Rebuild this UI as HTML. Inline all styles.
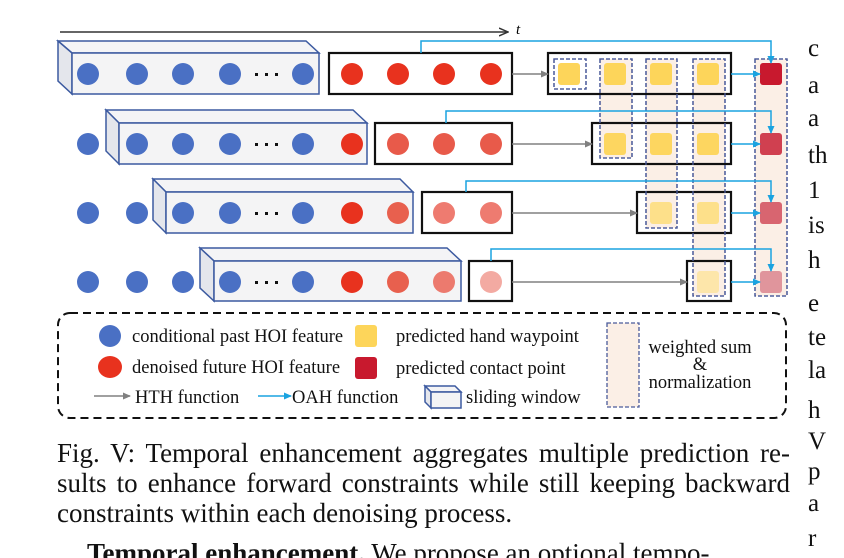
<!DOCTYPE html>
<html><head><meta charset="utf-8"><style>
html,body{margin:0;padding:0;background:#fff;width:844px;height:558px;overflow:hidden;position:relative;font-family:"Liberation Serif",serif;}
.cap{position:absolute;left:57px;width:733px;font-size:27px;line-height:30px;color:#111;white-space:nowrap;}
.j{text-align:justify;text-align-last:justify;white-space:normal;}
.rc{position:absolute;left:808px;font-size:25px;color:#111;line-height:25px;}
</style></head><body>
<svg width="844" height="558" style="position:absolute;left:0;top:0" xmlns="http://www.w3.org/2000/svg">
<defs>
<marker id="ag" markerWidth="8" markerHeight="8" refX="7" refY="4" orient="auto" markerUnits="userSpaceOnUse"><path d="M0,0.5 L8,4 L0,7.5 z" fill="#808080"/></marker>
<marker id="ab" markerWidth="8" markerHeight="8" refX="7" refY="4" orient="auto" markerUnits="userSpaceOnUse"><path d="M0,0.5 L8,4 L0,7.5 z" fill="#1aa3e0"/></marker>
<marker id="ak" markerWidth="10" markerHeight="10" refX="9" refY="5" orient="auto" markerUnits="userSpaceOnUse"><path d="M0,1 L9,5 L0,9" fill="none" stroke="#333" stroke-width="1.5"/></marker>
</defs>
<line x1="60" y1="32" x2="508" y2="32" stroke="#333" stroke-width="1.5" marker-end="url(#ak)"/>
<text x="516" y="34" font-size="15" font-style="italic" font-family="Liberation Serif">t</text>

<g fill="#fbefe6" stroke="#4a5a9a" stroke-width="1.3" stroke-dasharray="4,2">
<rect x="554" y="59" width="32" height="30" fill="#fff"/>
<rect x="600" y="59" width="32" height="99"/>
<rect x="646" y="59" width="31" height="169"/>
<rect x="693" y="59" width="32" height="237"/>
<rect x="755" y="59" width="32" height="237"/>
</g>

<g fill="none" stroke="#111" stroke-width="2.2">
<rect x="329" y="53" width="183" height="41"/>
<rect x="375" y="123" width="137" height="41"/>
<rect x="422" y="192" width="90" height="41"/>
<rect x="469" y="261" width="43" height="40"/>
<rect x="548" y="53" width="183" height="41"/>
<rect x="592" y="123" width="139" height="41"/>
<rect x="637" y="192" width="94" height="41"/>
<rect x="687" y="261" width="44" height="40"/>
</g>
<g fill="none" stroke="#4a5a9a" stroke-width="1.3" stroke-dasharray="4,2">
<rect x="554" y="59" width="32" height="30"/>
<rect x="600" y="59" width="32" height="99"/>
<rect x="646" y="59" width="31" height="169"/>
<rect x="693" y="59" width="32" height="237"/>
<rect x="755" y="59" width="32" height="237"/>
</g>

<g stroke="#3c5aa0" stroke-width="1.5">
<g>
<path d="M58,41 L306,41 L319,53 L72,53 Z" fill="#f4f4f6"/>
<path d="M58,41 L72,53 L72,94 L58,81 Z" fill="#e4e6ec"/>
<rect x="72" y="53" width="247" height="41" fill="#f4f4f5"/>
</g>
<g>
<path d="M106,110 L353,110 L367,123 L119,123 Z" fill="#f4f4f6"/>
<path d="M106,110 L119,123 L119,164 L106,151 Z" fill="#e4e6ec"/>
<rect x="119" y="123" width="248" height="41" fill="#f4f4f5"/>
</g>
<g>
<path d="M153,179 L400,179 L413,192 L166,192 Z" fill="#f4f4f6"/>
<path d="M153,179 L166,192 L166,233 L153,220 Z" fill="#e4e6ec"/>
<rect x="166" y="192" width="247" height="41" fill="#f4f4f5"/>
</g>
<g>
<path d="M200,248 L447,248 L461,261 L214,261 Z" fill="#f4f4f6"/>
<path d="M200,248 L214,261 L214,301 L200,288 Z" fill="#e4e6ec"/>
<rect x="214" y="261" width="247" height="40" fill="#f4f4f5"/>
</g>
</g>

<g fill="#4a70c4">
<circle cx="88" cy="74" r="11"/><circle cx="137" cy="74" r="11"/><circle cx="183" cy="74" r="11"/><circle cx="230" cy="74" r="11"/><circle cx="303" cy="74" r="11"/>
<circle cx="88" cy="144" r="11"/><circle cx="137" cy="144" r="11"/><circle cx="183" cy="144" r="11"/><circle cx="230" cy="144" r="11"/><circle cx="303" cy="144" r="11"/>
<circle cx="88" cy="213" r="11"/><circle cx="137" cy="213" r="11"/><circle cx="183" cy="213" r="11"/><circle cx="230" cy="213" r="11"/><circle cx="303" cy="213" r="11"/>
<circle cx="88" cy="282" r="11"/><circle cx="137" cy="282" r="11"/><circle cx="183" cy="282" r="11"/><circle cx="230" cy="282" r="11"/><circle cx="303" cy="282" r="11"/>
</g>
<g fill="#111">
<rect x="255" y="73" width="3" height="3"/><rect x="265" y="73" width="3" height="3"/><rect x="275" y="73" width="3" height="3"/>
<rect x="255" y="143" width="3" height="3"/><rect x="265" y="143" width="3" height="3"/><rect x="275" y="143" width="3" height="3"/>
<rect x="255" y="212" width="3" height="3"/><rect x="265" y="212" width="3" height="3"/><rect x="275" y="212" width="3" height="3"/>
<rect x="255" y="281" width="3" height="3"/><rect x="265" y="281" width="3" height="3"/><rect x="275" y="281" width="3" height="3"/>
</g>
<g>
<circle cx="352" cy="74" r="11" fill="#e8321e"/><circle cx="398" cy="74" r="11" fill="#e8321e"/><circle cx="444" cy="74" r="11" fill="#e8321e"/><circle cx="491" cy="74" r="11" fill="#e8321e"/>
<circle cx="352" cy="144" r="11" fill="#e8321e"/><circle cx="398" cy="144" r="11" fill="#e85a4a"/><circle cx="444" cy="144" r="11" fill="#e85a4a"/><circle cx="491" cy="144" r="11" fill="#e85a4a"/>
<circle cx="352" cy="213" r="11" fill="#e8321e"/><circle cx="398" cy="213" r="11" fill="#e8604e"/><circle cx="444" cy="213" r="11" fill="#ee7b70"/><circle cx="491" cy="213" r="11" fill="#ee7b70"/>
<circle cx="352" cy="282" r="11" fill="#e8321e"/><circle cx="398" cy="282" r="11" fill="#e8604e"/><circle cx="444" cy="282" r="11" fill="#ec7a6e"/><circle cx="491" cy="282" r="11" fill="#f3aaa2"/>
</g>

<g>
<rect x="558" y="63" width="22" height="22" rx="3" fill="#fdd55a"/><rect x="604" y="63" width="22" height="22" rx="3" fill="#fdd55a"/><rect x="650" y="63" width="22" height="22" rx="3" fill="#fdd55a"/><rect x="697" y="63" width="22" height="22" rx="3" fill="#fdd55a"/>
<rect x="604" y="133" width="22" height="22" rx="3" fill="#fdd660"/><rect x="650" y="133" width="22" height="22" rx="3" fill="#fdd660"/><rect x="697" y="133" width="22" height="22" rx="3" fill="#fdd660"/>
<rect x="650" y="202" width="22" height="22" rx="3" fill="#fde08a"/><rect x="697" y="202" width="22" height="22" rx="3" fill="#fde08a"/>
<rect x="697" y="271" width="22" height="22" rx="3" fill="#fde6aa"/>
</g>
<rect x="760" y="63" width="22" height="22" rx="3" fill="#c8192e"/>
<rect x="760" y="133" width="22" height="22" rx="3" fill="#d04050"/>
<rect x="760" y="202" width="22" height="22" rx="3" fill="#d86570"/>
<rect x="760" y="271" width="22" height="22" rx="3" fill="#e0959c"/>

<g stroke="#808080" stroke-width="1.5" marker-end="url(#ag)">
<line x1="512" y1="74" x2="548" y2="74"/>
<line x1="512" y1="144" x2="592" y2="144"/>
<line x1="512" y1="213" x2="637" y2="213"/>
<line x1="512" y1="282" x2="687" y2="282"/>
</g>
<g stroke="#1aa3e0" stroke-width="1.5" fill="none" marker-end="url(#ab)">
<line x1="731" y1="74" x2="760" y2="74"/>
<line x1="731" y1="144" x2="760" y2="144"/>
<line x1="731" y1="213" x2="760" y2="213"/>
<line x1="731" y1="282" x2="760" y2="282"/>
<polyline points="421,53 421,41 771,41 771,63"/>
<polyline points="446,123 446,111 771,111 771,133"/>
<polyline points="466,192 466,181 771,181 771,202"/>
<polyline points="491,261 491,249 771,249 771,271"/>
</g>

<rect x="58" y="313" width="728" height="105" rx="12" fill="none" stroke="#111" stroke-width="2" stroke-dasharray="8,5"/>
<ellipse cx="110" cy="336" rx="11" ry="11" fill="#4a70c4"/>
<rect x="355" y="325" width="22" height="22" rx="3" fill="#fdd55a"/>
<ellipse cx="110" cy="367" rx="12" ry="11" fill="#e8321e"/>
<rect x="355" y="357" width="22" height="22" rx="3" fill="#c8192e"/>
<line x1="94" y1="396" x2="130" y2="396" stroke="#808080" stroke-width="1.5" marker-end="url(#ag)"/>
<line x1="258" y1="396" x2="291" y2="396" stroke="#1aa3e0" stroke-width="1.5" marker-end="url(#ab)"/>
<g stroke="#3c5aa0" stroke-width="1.5">
<path d="M425,386 L455,386 L461,392 L431,392 Z" fill="#f4f4f6"/>
<path d="M425,386 L431,392 L431,408 L425,402 Z" fill="#e4e6ec"/>
<rect x="431" y="392" width="30" height="16" fill="#f4f4f5"/>
</g>
<rect x="607" y="323" width="32" height="84" fill="#fbefe6" stroke="#4a5a9a" stroke-width="1.3" stroke-dasharray="4,2"/>
<g font-family="Liberation Serif" font-size="18.5" fill="#111">
<text x="132" y="342">conditional past HOI feature</text>
<text x="396" y="342">predicted hand waypoint</text>
<text x="132" y="373">denoised future HOI feature</text>
<text x="396" y="374">predicted contact point</text>
<text x="135" y="403">HTH function</text>
<text x="292" y="403">OAH function</text>
<text x="466" y="403">sliding window</text>
<text x="700" y="353" text-anchor="middle">weighted sum</text>
<text x="700" y="370" text-anchor="middle">&amp;</text>
<text x="700" y="388" text-anchor="middle">normalization</text>
</g>
</svg>

<div class="cap j" style="top:438px">Fig. V: Temporal enhancement aggregates multiple prediction re-</div>
<div class="cap j" style="top:468px">sults to enhance forward constraints while still keeping backward</div>
<div class="cap" style="top:498px">constraints within each denoising process.</div>
<div class="cap" style="top:538px;left:87px"><b>Temporal enhancement.</b> We propose an optional tempo-</div>

<div class="rc" style="top:36px">c</div>
<div class="rc" style="top:73px">a</div>
<div class="rc" style="top:106px">a</div>
<div class="rc" style="top:143px">th</div>
<div class="rc" style="top:178px">1</div>
<div class="rc" style="top:213px">is</div>
<div class="rc" style="top:248px">h</div>
<div class="rc" style="top:291px">e</div>
<div class="rc" style="top:325px">te</div>
<div class="rc" style="top:358px">la</div>
<div class="rc" style="top:398px">h</div>
<div class="rc" style="top:429px">V</div>
<div class="rc" style="top:459px">p</div>
<div class="rc" style="top:491px">a</div>
<div class="rc" style="top:526px">r</div>
</body></html>
